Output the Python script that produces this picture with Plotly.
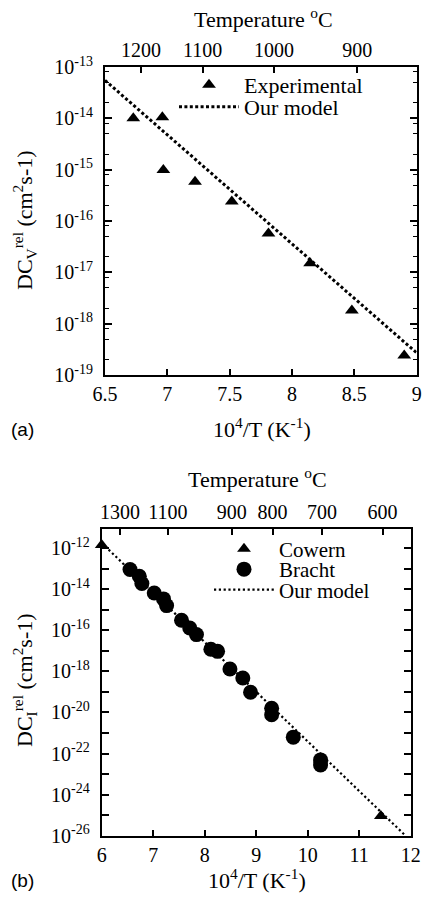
import plotly.graph_objects as go

FIG_W, FIG_H = 424, 908

# ---- Panel (a): vacancy contribution -------------------------------------
exp_x = [6.727, 6.960, 6.968, 7.222, 7.517, 7.811, 8.145, 8.480, 8.900]
exp_y = [1.0e-14, 1.05e-14, 9.8e-16, 5.8e-16, 2.4e-16, 5.7e-17, 1.5e-17, 1.8e-18, 2.4e-19]
model_a_x = [6.5, 9.0]
model_a_y = [5.5e-14, 2.7e-19]

a_xticks = [6.5, 7, 7.5, 8, 8.5, 9]
a_yexps = [-19, -18, -17, -16, -15, -14, -13]
a_temps = [1200, 1100, 1000, 900]

# ---- Panel (b): interstitial contribution --------------------------------
cowern_x = [6.00, 10.27, 11.42]
cowern_y = [1.45e-12, 5.8e-23, 9.0e-26]
bracht_x = [6.55, 6.73, 6.78, 7.02, 7.20, 7.26, 7.55, 7.71, 7.84, 8.12,
            8.25, 8.49, 8.74, 8.89, 9.30, 9.30, 9.72, 10.25, 10.25]
bracht_y = [9.1e-14, 4.3e-14, 1.9e-14, 6.6e-15, 3.4e-15, 1.6e-15, 3.1e-16,
            1.3e-16, 6.2e-17, 1.2e-17, 9.5e-18, 1.3e-18, 4.8e-19, 9.6e-20,
            1.6e-20, 7.8e-21, 6.3e-22, 4.9e-23, 2.8e-23]
model_b_x = [6.0, 11.9]
model_b_y = [1.8e-12, 1.0e-26]

b_xticks = [6, 7, 8, 9, 10, 11, 12]
b_yexps = [-26, -24, -22, -20, -18, -16, -14, -12]
b_temps = [1300, 1100, 900, 800, 700, 600]

SERIF = "Liberation Serif"
SANS = "Liberation Sans"
BLACK = "#000000"


def px(x):
    return x / FIG_W


def py(y):
    return 1 - y / FIG_H


def inv_t(temps_c):
    return [1e4 / (t + 273.15) for t in temps_c]


def exp_labels(exps):
    return [f"10<sup>{e}</sup>" for e in exps]


# plot-area rectangles (pixels): left, right, top, bottom
A_BOX = (105, 416.7, 67, 375)
B_BOX = (101.7, 410.7, 529.3, 835.7)

fig = go.Figure()

# Experimental points on the 1/T axis; the model curve is drawn against the
# temperature axis, which shares the same 1/T range, so that axis is rendered.
fig.add_trace(go.Scatter(
    x=exp_x, y=exp_y, mode="markers", name="Experimental",
    marker=dict(symbol="triangle-up", size=12, color=BLACK, line=dict(width=0)),
    xaxis="x", yaxis="y", legend="legend", cliponaxis=False))
fig.add_trace(go.Scatter(
    x=model_a_x, y=model_a_y, mode="lines", name="Our model",
    line=dict(color=BLACK, width=3, dash="3px,2.4px"),
    xaxis="x2", yaxis="y", legend="legend2"))

fig.add_trace(go.Scatter(
    x=model_b_x, y=model_b_y, mode="lines", name="Our model",
    line=dict(color=BLACK, width=2.2, dash="2.2px,2.6px"),
    xaxis="x4", yaxis="y3", legend="legend5"))
fig.add_trace(go.Scatter(
    x=bracht_x, y=bracht_y, mode="markers", name="Bracht",
    marker=dict(symbol="circle", size=15, color=BLACK, line=dict(width=0)),
    xaxis="x3", yaxis="y3", legend="legend4", cliponaxis=False))
fig.add_trace(go.Scatter(
    x=cowern_x, y=cowern_y, mode="markers", name="Cowern",
    marker=dict(symbol="triangle-up", size=12, color=BLACK, line=dict(width=0)),
    xaxis="x3", yaxis="y3", legend="legend3", cliponaxis=False))

tickfont = dict(family=SERIF, size=20, color=BLACK)
common = dict(showline=True, linecolor=BLACK, linewidth=2, showgrid=False,
              zeroline=False, ticks="inside", tickcolor=BLACK, tickwidth=1.5,
              tickfont=tickfont, automargin=False)


def x_domain(box):
    return [px(box[0]), px(box[1])]


def y_domain(box):
    return [py(box[3]), py(box[2])]


layout = dict(
    width=FIG_W, height=FIG_H,
    font=dict(family=SERIF, size=20, color=BLACK),
    margin=dict(l=0, r=0, t=0, b=0),
    paper_bgcolor="white", plot_bgcolor="white",
    xaxis=dict(domain=x_domain(A_BOX), anchor="y", range=[6.5, 9],
               tickmode="array", tickvals=a_xticks,
               ticktext=[f"{v:g}" for v in a_xticks], ticklen=6, **common),
    xaxis2=dict(overlaying="x", side="top", anchor="y", range=[6.5, 9],
                tickmode="array", tickvals=inv_t(a_temps),
                ticktext=[str(t) for t in a_temps], ticklen=6, **common),
    yaxis=dict(domain=y_domain(A_BOX), anchor="x", type="log",
               range=[-19, -13], tickmode="array",
               tickvals=[10.0 ** e for e in a_yexps],
               ticktext=exp_labels(a_yexps), ticklen=7, mirror="ticks",
               ticklabelstandoff=6,
               minor=dict(ticks="inside", ticklen=4, tickcolor=BLACK,
                          tickwidth=1.2, tickmode="array",
                          tickvals=[m * 10.0 ** e for e in a_yexps[:-1]
                                    for m in (2, 5, 8)]),
               **common),
    xaxis3=dict(domain=x_domain(B_BOX), anchor="y3", range=[6, 12],
                tickmode="array", tickvals=b_xticks,
                ticktext=[str(v) for v in b_xticks], ticklen=6, **common),
    xaxis4=dict(overlaying="x3", side="top", anchor="y3", range=[6, 12],
                tickmode="array", tickvals=inv_t(b_temps),
                ticktext=[str(t) for t in b_temps], ticklen=6, **common),
    yaxis3=dict(domain=y_domain(B_BOX), anchor="x3", type="log",
                range=[-26, -11.08], tickmode="array",
                tickvals=[10.0 ** e for e in b_yexps],
                ticktext=exp_labels(b_yexps), ticklen=7, mirror="ticks",
                ticklabelstandoff=6,
                minor=dict(ticks="inside", ticklen=7, tickcolor=BLACK,
                           tickwidth=1.5, tickmode="array",
                           tickvals=[10.0 ** (e + 1) for e in b_yexps]),
                **common),
    showlegend=True,
)

ITEM_W = 60


def legend_at(x_px, y_px, size):
    return dict(x=px(x_px), y=py(y_px), xanchor="left", yanchor="middle",
                xref="paper", yref="paper", bgcolor="rgba(0,0,0,0)",
                borderwidth=0, itemwidth=ITEM_W,
                font=dict(family=SERIF, size=size, color=BLACK),
                itemclick=False, itemdoubleclick=False)


layout["legend"] = legend_at(174, 85, 22)
layout["legend2"] = legend_at(174, 107, 22)
layout["legend3"] = legend_at(209, 549, 21)
layout["legend4"] = legend_at(209, 569.5, 21)
layout["legend5"] = legend_at(209, 590, 21)


def label(text, x_px, y_px, size=22, family=SERIF, angle=0):
    return dict(text=text, x=px(x_px), y=py(y_px), xref="paper", yref="paper",
                xanchor="center", yanchor="middle", showarrow=False,
                textangle=angle, font=dict(family=family, size=size, color=BLACK))


layout["annotations"] = [
    label("Temperature <sup>o</sup>C", 263, 18),
    label("10<sup>4</sup>/T (K<sup>-1</sup>)", 262, 428),
    label("DC<sub>V</sub><sup>rel</sup> (cm<sup>2</sup>s-1)", 24, 220, angle=-90),
    label("(a)", 22, 429, size=19, family=SANS),
    label("Temperature <sup>o</sup>C", 257, 478),
    label("10<sup>4</sup>/T (K<sup>-1</sup>)", 257, 879),
    label("DC<sub>I</sub><sup>rel</sup> (cm<sup>2</sup>s-1)", 24, 680, angle=-90),
    label("(b)", 22, 880, size=19, family=SANS),
]

fig.update_layout(**layout)
fig.write_html("out.html")
